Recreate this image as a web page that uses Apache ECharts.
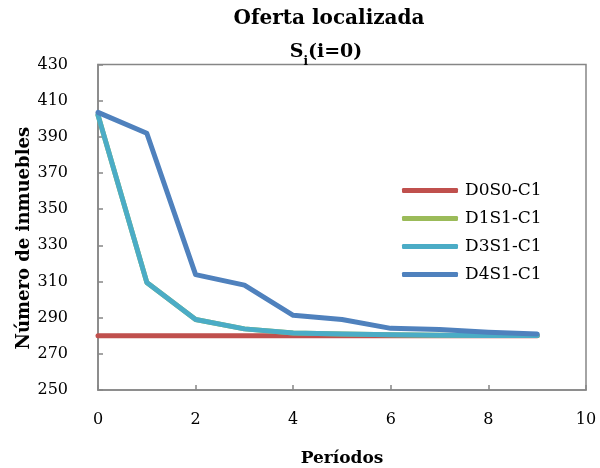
<!DOCTYPE html>
<html><head><meta charset="utf-8">
<script src="https://cdn.jsdelivr.net/npm/echarts@6/dist/echarts.min.js"></script>
<style>html,body{margin:0;padding:0;background:#fff}#c{width:600px;height:468px}</style>
</head><body><div id="c"></div>
<script>
var periods = [0,1,2,3,4,5,6,7,8,9];
var seriesNames = ['D0S0-C1','D1S1-C1','D3S1-C1','D4S1-C1'];
var d0s0 = [280,280,280,280,280,280,280,280,280,280];
var d1s1 = [402,309.5,289,283.8,281.5,281,280.5,280.3,280.2,280.2];
var d3s1 = [402,309.5,289,283.8,281.5,281,280.5,280.3,280.2,280.2];
var d4s1 = [403.5,392,313.8,308,291.3,289,284.1,283.4,282,281];
var yTicks = {min:250, max:430, interval:20};
var xTicks = {min:0, max:10, interval:2};
var colors = ['#C0504D','#9BBB59','#4BACC6','#4F81BD'];
var font = 'DejaVu Serif';
function pts(arr){ return periods.map(function(p,i){return [p,arr[i]];}); }
var data = [d0s0,d1s1,d3s1,d4s1];
var chart = echarts.init(document.getElementById('c'));
chart.setOption({
  animation:false,
  backgroundColor:'#fff',
  title:[
    {text:'Oferta localizada', left:324, top:4, textAlign:'center', textStyle:{fontFamily:font,fontWeight:'bold',fontSize:20,color:'#000'}},
    {text:'{a|S}{s|i}{a|(i=0)}', left:321, top:35, textAlign:'center', textStyle:{rich:{
      a:{fontFamily:font,fontWeight:'bold',fontSize:19,color:'#000',lineHeight:24,verticalAlign:'middle'},
      s:{fontFamily:font,fontWeight:'bold',fontSize:12,color:'#000',lineHeight:24,verticalAlign:'bottom',padding:[0,0,-4,0]}
    }}}
  ],
  grid:{left:98,right:14,top:64.5,bottom:78,show:true,borderColor:'#868686',borderWidth:1.5,outerBoundsMode:'none',containLabel:false},
  legend:{orient:'vertical',left:397,top:177,itemWidth:56,itemHeight:5,itemGap:11,
    icon:'roundRect',
    data:seriesNames,
    textStyle:{fontFamily:font,fontSize:17,color:'#000',padding:[0,0,0,2]}},
  xAxis:{type:'value',min:xTicks.min,max:xTicks.max,interval:xTicks.interval,
    name:'Períodos',nameLocation:'middle',nameGap:60,nameMoveOverlap:false,
    nameTextStyle:{fontFamily:font,fontWeight:'bold',fontSize:17,color:'#000'},
    axisLine:{show:true,lineStyle:{color:'#868686',width:1.5}},
    axisTick:{show:true,inside:true,length:5,lineStyle:{color:'#868686',width:1.5}},
    axisLabel:{fontFamily:font,fontSize:16,color:'#000',margin:22},
    splitLine:{show:false}},
  yAxis:{type:'value',min:yTicks.min,max:yTicks.max,interval:yTicks.interval,
    name:'Número de inmuebles',nameLocation:'middle',nameGap:65,nameMoveOverlap:false,
    nameTextStyle:{fontFamily:font,fontWeight:'bold',fontSize:18,color:'#000',padding:[0,22,0,0]},
    axisLine:{show:true,lineStyle:{color:'#868686',width:1.5}},
    axisTick:{show:true,inside:true,length:5,lineStyle:{color:'#868686',width:1.5}},
    axisLabel:{fontFamily:font,fontSize:16,color:'#000',margin:30},
    splitLine:{show:false}},
  series: seriesNames.map(function(n,i){
    return {name:n,type:'line',data:pts(data[i]),symbol:'none',
      lineStyle:{color:colors[i],width:5,cap:'round',join:'round'},
      itemStyle:{color:colors[i]}};
  })
});
</script></body></html>
